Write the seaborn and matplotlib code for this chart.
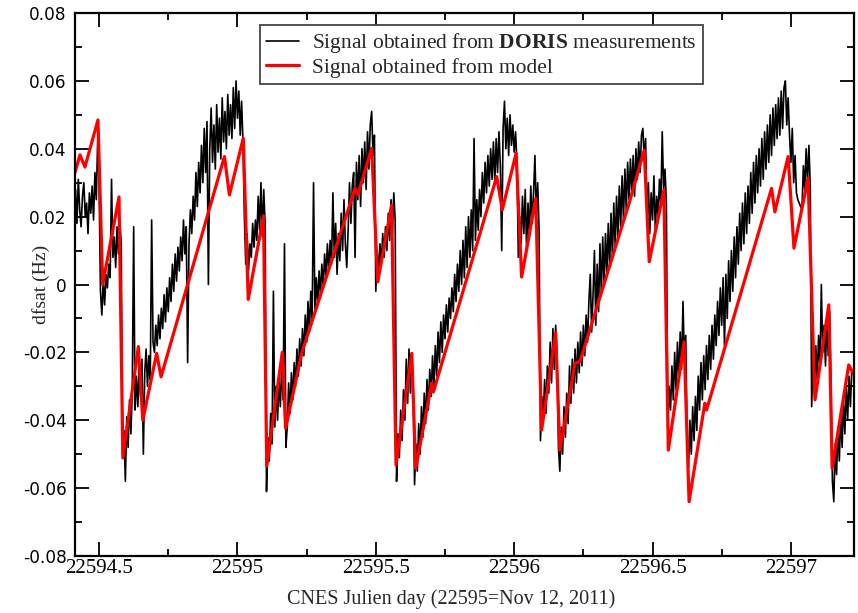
import numpy as np
import pandas as pd
import matplotlib
matplotlib.use("Agg")
import matplotlib.pyplot as plt
import seaborn as sns
from matplotlib.ticker import MultipleLocator, FixedLocator, FixedFormatter

# ---------------- data ----------------
# DORIS measured signal, sampled every 0.005 day from t0, values in mHz
doris_t0 = 22594.415
doris_dt = 0.005
doris_mhz = [
    28, 18, 31, 22, 17, 26, 30, 20, 24, 15, 27, 21, 29, 19, 33, 25, 43, 30,
    -2, -9, 1,
    -6, 3, -1, 6, 2, 31, 8, 14, 5, 17, 9, 19, 12,
    -50, -43, -58, -39, -48, -34, -44, -31, 17, -37, -27, -36, -24, -33, -22, -50, -26, -19, -30, -21, -28, 19, -17,
    -20, -12, -18, -9, -16, -7, -13, -3, -11, -1, -8, 2, -5, 6, -2, 9, 1, 11, 4, 14, 7, 19, 9, 17, -23, 12, 22, 15,
    26, 19, 33, 23, 36, 27, 41, 30, 46,
    33, 48, 0, 40, 52, 36, 47, 34, 53, 39, 49, 37, 55, 42, 51, 40, 56, 44, 53, 43, 58, 46, 60, 49, 57, 44, 54, 42,
    20, 6, 15, 4, 12, 8, 18, 11, 19, 13, 26, 16, 30, 14, 28, 18,
    -61, -45, -52, -38, -47, -2, -42, -30, -40, -28, -36, -24, -34, 12, -48, -42, -29, -38, -26, -34, -23, -30, -19,
    -27, -16, -24,
    -13, -21, -9, -17, -5, -14, -2, -10, 30, -8, 2, -6, 4, -3, 6, -1, 9, 2, 12, 4, 13, 6, 27, 8,
    18, 3, 15, 7, 21, 10, 25, 12, 5, 16, 30, 18, 29, 33, 8, 36, 25, 38, 23, 40, 30, 42, 28, 45, 34, 47, 51, 38, 44,
    -2, 10, 3, 12, 6, 15, 8, 17, 10, 21, 13, 25, 15, 27, 19,
    -58, -44, -51, -37, -46, -31, -40, -22, -35, -19, -32, -21, -30,
    -59, -47, -55, -41, -50, -36, -45, -32, -41, -28, -37, -25, -33, -21, -30, -18, -27, -14, -23, -11, -20, -9,
    -16, -6, -14, -4, -10, -1, -8, 3, -5, 6, -2, 10, 0, 13,
    2, 17, 5, 20, 8, 22, 10, 43, 13, 25, 16, 28, 20, 33, 24, 36, 27, 38, 29, 40, 31, 42, 30, 43, 33, 45, 35, 10,
    46, 54, 40, 49, 38, 50, 41, 47, 39, 45, 36,
    8, 20, 12, 26, 15, 28, 10, 24, 14, 29, 18, 27, 38, 20, 30, 16,
    -46, -33, -40, -28, -38, -24, -32, -17, -29, -13, -25, -12, -22,
    -48, -55, -42, -50, -36, -45, -32, -41, -24, -35, -22, -32, -19, -29, -17, -26, -14, -24, -12, -21, -9, -17,
    -5, 3, -14, -3,
    10, -12, 6, -8, 12, -3, 14, 0, 15, 3, 18, 5, 21, 8, 24, 11, 26, 14, 29, 17, 32, 19, 34, 22, 36, 25, 37, 27,
    38, 26, 40, 31, 42, 33, 44, 46, 37, 43,
    18, 30, 15, 27, 19, 32, 16, 26, 20, 31, 23, 45, 28, 34, 24,
    -42, -30, -37, -24, -34, -20, -31, -17, -28, -14, -25, -5, -22, -15,
    -47, -54, -40, -50, -36, -46, -33, -43, -27, -37, -23, -34, -21, -31, -18, -28, -15, -25, -12, -22, -9, -18,
    -5, -15, -1, -12, 2,
    -18, 3, -10, 7, -5, 10, -2, 14, 2, 17, 6, 21, 10, 24, 12, 27, 15, 29, 18, 33, 21, 36, 24, 38, 27, 40, 29, 43,
    31, 45, 34, 47, 36, 50, 38, 52, 41, 53, 43, 55, 44, 57, 46, 58, 60, 47, 55,
    44, 36, 46, 30, 38, 27, 25, 24, 23, 22, 35, 28, 40, 30, 41, 29,
    -36, -22, -32, -18, -28, -15, -25, 0, -20, -12, -24, -10, -21, -8, -30,
    -58, -64, -47, -56, -42, -52, -38, -48, -34, -44, -30, -40, -27, -36, -25,
]

# model signal (piecewise linear vertices)
model_t = [
    22594.413, 22594.431, 22594.449, 22594.496, 22594.513, 22594.572, 22594.586, 22594.642, 22594.658,
    22594.708, 22594.724, 22594.953, 22594.971, 22595.021, 22595.039, 22595.094, 22595.106, 22595.162,
    22595.174, 22595.232, 22595.425, 22595.435, 22595.485, 22595.507, 22595.557, 22595.573, 22595.630,
    22595.644, 22595.702, 22595.708, 22595.937, 22595.957, 22596.007, 22596.027, 22596.078, 22596.099,
    22596.150, 22596.165, 22596.220, 22596.238, 22596.417, 22596.470, 22596.488, 22596.541, 22596.557,
    22596.614, 22596.632, 22596.689, 22596.695, 22596.930, 22596.942, 22596.990, 22597.011, 22597.062,
    22597.087, 22597.137, 22597.149, 22597.209, 22597.228,
]
model_hz = [
    0.0330, 0.0382, 0.0346, 0.0485, 0.0000, 0.0258, -0.0511, -0.0183, -0.0400,
    -0.0203, -0.0272, 0.0377, 0.0264, 0.0431, -0.0044, 0.0202, -0.0535, -0.0200,
    -0.0424, -0.0203, 0.0283, 0.0264, 0.0401, 0.0008, 0.0234, -0.0532, -0.0203,
    -0.0542, -0.0291, -0.0317, 0.0318, 0.0220, 0.0387, 0.0022, 0.0254, -0.0429,
    -0.0142, -0.0488, -0.0232, -0.0227, 0.0244, 0.0396, 0.0067, 0.0278, -0.0488,
    -0.0169, -0.0640, -0.0350, -0.0370, 0.0283, 0.0214, 0.0377, 0.0107, 0.0313,
    -0.0340, -0.0060, -0.0542, -0.0237, -0.0267,
]

x_ticks = [22594.5, 22595, 22595.5, 22596, 22596.5, 22597]
x_tick_labels = ["22594.5", "22595", "22595.5", "22596", "22596.5", "22597"]
y_ticks = [-0.08, -0.06, -0.04, -0.02, 0, 0.02, 0.04, 0.06, 0.08]
y_tick_labels = ["-0.08", "-0.06", "-0.04", "-0.02", "0", "0.02", "0.04", "0.06", "0.08"]

label_doris = r"Signal obtained from $\mathbf{DORIS}$ measurements"
label_model = "Signal obtained from model"

# ---------------- style ----------------
sns.set_style("ticks")
plt.rcParams["font.family"] = ["Liberation Serif", "DejaVu Serif"]
plt.rcParams["mathtext.fontset"] = "custom"
plt.rcParams["mathtext.rm"] = "Liberation Serif"
plt.rcParams["mathtext.bf"] = "Liberation Serif:bold"

doris_t = doris_t0 + doris_dt * np.arange(len(doris_mhz))
df_doris = pd.DataFrame({"t": doris_t, "v": np.array(doris_mhz) / 1000.0})
df_model = pd.DataFrame({"t": model_t, "v": model_hz})

fig = plt.figure(figsize=(8.58, 6.13), dpi=100)
ax = fig.add_axes([75 / 858, 1 - 556 / 613, 779 / 858, 543 / 613])

sns.lineplot(data=df_doris, x="t", y="v", ax=ax, color="black", linewidth=1.2,
             estimator=None, sort=False, label=label_doris)
sns.lineplot(data=df_model, x="t", y="v", ax=ax, color="#ff0000", linewidth=2.3,
             estimator=None, sort=False, label=label_model)

ax.set_xlim(22594.413, 22597.228)
ax.set_ylim(-0.08, 0.08)

ax.xaxis.set_major_locator(FixedLocator(x_ticks))
ax.xaxis.set_major_formatter(FixedFormatter(x_tick_labels))
ax.xaxis.set_minor_locator(MultipleLocator(0.25))
ax.yaxis.set_major_locator(FixedLocator(y_ticks))
ax.yaxis.set_major_formatter(FixedFormatter(y_tick_labels))
ax.yaxis.set_minor_locator(MultipleLocator(0.01))

ax.tick_params(which="both", direction="in", top=True, right=True, width=1.3, colors="black")
ax.tick_params(which="major", length=10)
ax.tick_params(which="minor", length=5)
ax.tick_params(axis="x", which="major", labelsize=15, pad=2)
ax.tick_params(axis="y", which="major", labelsize=12.2, pad=6)
for lbl in ax.get_yticklabels():
    lbl.set_family("DejaVu Sans")

for s in ax.spines.values():
    s.set_linewidth(1.6)
    s.set_color("black")

ax.set_xlabel("CNES Julien day (22595=Nov 12, 2011)", fontsize=14.5)
ax.xaxis.set_label_coords(0.483, -0.062)
ax.set_ylabel("dfsat (Hz)", fontsize=14)
ax.yaxis.set_label_coords(-0.032, 0.5)

leg = ax.legend(loc="upper left", bbox_to_anchor=(0.2375, 0.978), borderaxespad=0,
                fontsize=15.5, frameon=True, fancybox=False, handlelength=1.5,
                handletextpad=0.6, labelspacing=0.1, borderpad=0.3)
leg.get_frame().set_edgecolor("#444444")
leg.get_frame().set_linewidth(1.3)
leg.get_frame().set_alpha(1)
ax.grid(False)

fig.savefig("out.png", dpi=100)
